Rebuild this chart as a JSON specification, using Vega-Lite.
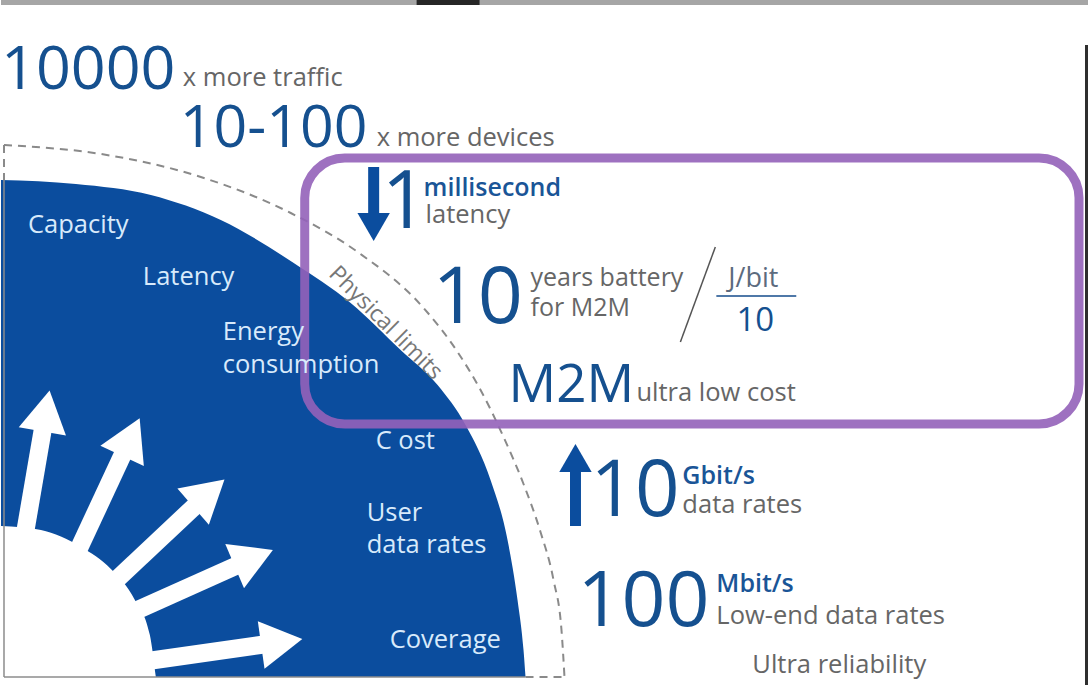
{
  "$schema": "https://vega.github.io/schema/vega-lite/v6.json",
  "width": 1088,
  "height": 685,
  "autosize": {"type": "fit", "contains": "padding"},
  "padding": 0,
  "background": "white",
  "config": {"view": {"stroke": null}},
  "encoding": {
    "x": {"field": "x", "type": "quantitative", "scale": {"domain": [0, 1088], "nice": false, "zero": false}, "axis": null},
    "y": {"field": "y", "type": "quantitative", "scale": {"domain": [0, 685], "nice": false, "zero": false, "reverse": true}, "axis": null}
  },
  "layer": [
    {
      "data": {"values": [{"x": 0, "x2": 1088, "y": 0, "y2": 5}]},
      "mark": {"type": "rect", "color": "#a6a6a6"},
      "encoding": {"x2": {"field": "x2"}, "y2": {"field": "y2"}}
    },
    {
      "data": {"values": [{"x": 416, "x2": 479, "y": 0, "y2": 5}]},
      "mark": {"type": "rect", "color": "#262626"},
      "encoding": {"x2": {"field": "x2"}, "y2": {"field": "y2"}}
    },
    {
      "data": {"values": [{"x": 1085, "x2": 1088, "y": 45, "y2": 685}]},
      "mark": {"type": "rect", "color": "#2e2e2e"},
      "encoding": {"x2": {"field": "x2"}, "y2": {"field": "y2"}}
    },
    {
      "data": {"values": [
        {"x": 0, "y": 180}, {"x": 75, "y": 184}, {"x": 150, "y": 195}, {"x": 220, "y": 220},
        {"x": 293, "y": 263}, {"x": 350, "y": 303}, {"x": 400, "y": 350}, {"x": 437, "y": 385},
        {"x": 465, "y": 425}, {"x": 490, "y": 480}, {"x": 507, "y": 540}, {"x": 517, "y": 600},
        {"x": 523, "y": 650}, {"x": 525, "y": 677}
      ]},
      "mark": {"type": "area", "color": "#0b4d9e", "interpolate": "monotone", "opacity": 1},
      "encoding": {"y2": {"datum": 677}}
    },
    {
      "data": {"values": [
        {"x": 0, "y": 526}, {"x": 40, "y": 530}, {"x": 80, "y": 547}, {"x": 110, "y": 569},
        {"x": 134, "y": 600}, {"x": 149, "y": 635}, {"x": 155, "y": 677}
      ]},
      "mark": {"type": "area", "color": "white", "interpolate": "monotone", "opacity": 1},
      "encoding": {"y2": {"datum": 677}}
    },
    {
      "data": {"values": [
        {"x": 3, "y": 180, "x2": 3, "y2": 677},
        {"x": 3, "y": 677, "x2": 525, "y2": 677}
      ]},
      "mark": {"type": "rule", "color": "#8c8c8c", "strokeWidth": 1.5},
      "encoding": {"x2": {"field": "x2"}, "y2": {"field": "y2"}}
    },
    {
      "data": {"values": [
        {"x": 3, "y": 145, "x2": 3, "y2": 180},
        {"x": 525, "y": 677, "x2": 564, "y2": 677}
      ]},
      "mark": {"type": "rule", "color": "#8a8a8a", "strokeWidth": 2, "strokeDash": [8, 6]},
      "encoding": {"x2": {"field": "x2"}, "y2": {"field": "y2"}}
    },
    {
      "data": {"values": [
        {"x": 3, "y": 145}, {"x": 100, "y": 154}, {"x": 200, "y": 177}, {"x": 290, "y": 213},
        {"x": 357, "y": 252}, {"x": 423, "y": 308}, {"x": 457, "y": 352}, {"x": 480, "y": 390},
        {"x": 503, "y": 437}, {"x": 523, "y": 484}, {"x": 540, "y": 532}, {"x": 553, "y": 580},
        {"x": 561, "y": 630}, {"x": 564, "y": 677}
      ]},
      "mark": {"type": "line", "color": "#8a8a8a", "strokeWidth": 2, "strokeDash": [8, 6], "interpolate": "monotone"},
      "encoding": {}
    },
    {
      "data": {"values": [
        {"x": 22, "y": 545, "x2": 45, "y2": 411},
        {"x": 75, "y": 555, "x2": 130, "y2": 437},
        {"x": 110, "y": 585, "x2": 208, "y2": 493},
        {"x": 130, "y": 613, "x2": 253, "y2": 558},
        {"x": 140, "y": 662, "x2": 281, "y2": 642}
      ]},
      "mark": {"type": "rule", "color": "white", "strokeWidth": 18},
      "encoding": {"x2": {"field": "x2"}, "y2": {"field": "y2"}}
    },
    {
      "data": {"values": [
        {"x": 45, "y": 411, "a": 10},
        {"x": 130, "y": 437, "a": 25},
        {"x": 208, "y": 493, "a": 49},
        {"x": 253, "y": 558, "a": 67},
        {"x": 281, "y": 642, "a": 82}
      ]},
      "mark": {"type": "point", "shape": "triangle-up", "filled": true, "color": "white", "opacity": 1, "size": 2300},
      "encoding": {"angle": {"field": "a", "type": "quantitative", "scale": null}}
    },
    {
      "data": {"values": [
        {"x": 373, "y": 167, "x2": 373, "y2": 222},
        {"x": 575, "y": 526, "x2": 575, "y2": 462}
      ]},
      "mark": {"type": "rule", "color": "#0b4d9e", "strokeWidth": 11},
      "encoding": {"x2": {"field": "x2"}, "y2": {"field": "y2"}}
    },
    {
      "data": {"values": [{"x": 373, "y": 227, "a": 180}, {"x": 575, "y": 458, "a": 0}]},
      "mark": {"type": "point", "shape": "triangle-up", "filled": true, "color": "#0b4d9e", "opacity": 1, "size": 1050},
      "encoding": {"angle": {"field": "a", "type": "quantitative", "scale": null}}
    },
    {
      "data": {"values": [{"x": 715, "y": 247, "x2": 680, "y2": 342}]},
      "mark": {"type": "rule", "color": "#555555", "strokeWidth": 1.5},
      "encoding": {"x2": {"field": "x2"}, "y2": {"field": "y2"}}
    },
    {
      "data": {"values": [{"x": 716, "y": 296, "x2": 796, "y2": 296}]},
      "mark": {"type": "rule", "color": "#4f78a8", "strokeWidth": 2},
      "encoding": {"x2": {"field": "x2"}, "y2": {"field": "y2"}}
    },
    {
      "data": {"values": [{"x": 304, "y": 158, "x2": 1079, "y2": 424}]},
      "mark": {"type": "rect", "fill": "transparent", "stroke": "#9462b9", "strokeWidth": 9, "strokeOpacity": 0.9, "cornerRadius": 40},
      "encoding": {"x2": {"field": "x2"}, "y2": {"field": "y2"}}
    },
    {
      "data": {"values": [
        {"x": 0, "y": 89, "t": "10000", "s": 61},
        {"x": 179, "y": 147, "t": "10-100", "s": 59},
        {"x": 381, "y": 228, "t": "1", "s": 80},
        {"x": 432, "y": 323, "t": "10", "s": 79},
        {"x": 508, "y": 402, "t": "M2M", "s": 53},
        {"x": 590, "y": 516, "t": "10", "s": 78},
        {"x": 577, "y": 626, "t": "100", "s": 77}
      ]},
      "mark": {"type": "text", "align": "left", "baseline": "alphabetic", "font": "Open Sans", "color": "#15508f"},
      "encoding": {"text": {"field": "t"}, "size": {"field": "s", "type": "quantitative", "scale": null}}
    },
    {
      "data": {"values": [
        {"x": 182, "y": 86, "t": "x more traffic"},
        {"x": 376, "y": 146, "t": "x more devices"},
        {"x": 425, "y": 223, "t": "latency"},
        {"x": 636, "y": 401, "t": "ultra low cost"},
        {"x": 682, "y": 513, "t": "data rates"},
        {"x": 716, "y": 624, "t": "Low-end data rates"},
        {"x": 752, "y": 673, "t": "Ultra reliability"}
      ]},
      "mark": {"type": "text", "align": "left", "baseline": "alphabetic", "font": "Open Sans", "fontSize": 25.5, "color": "#666666"},
      "encoding": {"text": {"field": "t"}}
    },
    {
      "data": {"values": [
        {"x": 530, "y": 286, "t": "years battery"},
        {"x": 530, "y": 316, "t": "for M2M"}
      ]},
      "mark": {"type": "text", "align": "left", "baseline": "alphabetic", "font": "Open Sans", "fontSize": 25, "color": "#666666"},
      "encoding": {"text": {"field": "t"}}
    },
    {
      "data": {"values": [{"x": 753, "y": 287, "t": "J/bit"}]},
      "mark": {"type": "text", "align": "center", "baseline": "alphabetic", "font": "Open Sans", "fontSize": 27, "color": "#5c6b7e"},
      "encoding": {"text": {"field": "t"}}
    },
    {
      "data": {"values": [{"x": 755, "y": 331, "t": "10"}]},
      "mark": {"type": "text", "align": "center", "baseline": "alphabetic", "font": "Open Sans", "fontSize": 33, "color": "#15508f"},
      "encoding": {"text": {"field": "t"}}
    },
    {
      "data": {"values": [
        {"x": 423, "y": 196, "t": "millisecond"},
        {"x": 682, "y": 484, "t": "Gbit/s"},
        {"x": 716, "y": 592, "t": "Mbit/s"}
      ]},
      "mark": {"type": "text", "align": "left", "baseline": "alphabetic", "font": "Open Sans", "fontSize": 25, "fontWeight": 600, "color": "#1a5597"},
      "encoding": {"text": {"field": "t"}}
    },
    {
      "data": {"values": [
        {"x": 27, "y": 233, "t": "Capacity"},
        {"x": 142, "y": 285, "t": "Latency"},
        {"x": 222, "y": 340, "t": "Energy"},
        {"x": 222, "y": 373, "t": "consumption"},
        {"x": 375, "y": 449, "t": "C ost"},
        {"x": 366, "y": 521, "t": "User"},
        {"x": 366, "y": 553, "t": "data rates"},
        {"x": 389, "y": 648, "t": "Coverage"}
      ]},
      "mark": {"type": "text", "align": "left", "baseline": "alphabetic", "font": "Open Sans", "fontSize": 25.5, "color": "#d8eafb"},
      "encoding": {"text": {"field": "t"}}
    },
    {
      "data": {"values": [{"x": 385, "y": 323, "t": "Physical limits"}]},
      "mark": {"type": "text", "align": "center", "baseline": "middle", "font": "Open Sans", "fontSize": 23, "angle": 45, "color": "#777777"},
      "encoding": {"text": {"field": "t"}}
    }
  ]
}
